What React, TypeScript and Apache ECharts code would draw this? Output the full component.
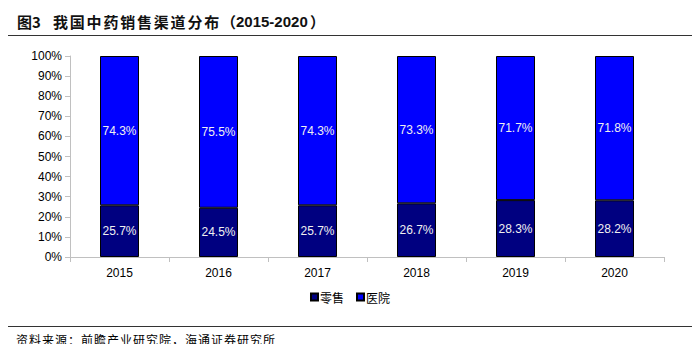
import React, { useEffect, useRef } from "react";
import * as echarts from "echarts";

const categories = ["2015", "2016", "2017", "2018", "2019", "2020"];
const retail = [25.7, 24.5, 25.7, 26.7, 28.3, 28.2];
const hospital = [74.3, 75.5, 74.3, 73.3, 71.7, 71.8];
const seriesNames = ["零售", "医院"];
const titleLabel = "图3";
const titleMain = "我国中药销售渠道分布";
const titleYears = "2015-2020";
const sourceText = "资料来源：前瞻产业研究院，海通证券研究所";

function spaced(text: string, x0: number, y: number, pitch: number, style: any) {
  return Array.from(text).map((ch, i) => ({
    type: "text",
    x: x0 + i * pitch,
    y,
    style: { text: ch, ...style },
  }));
}

export default function App() {
  const ref = useRef<HTMLDivElement>(null);
  useEffect(() => {
    const chart = echarts.init(ref.current!, null, { renderer: "svg" });
    const labelStyle = {
      show: true,
      position: "inside",
      color: "#f0f0f0",
      fontSize: 12,
      fontFamily: "Liberation Sans, Arial, sans-serif",
      formatter: (p: any) => p.value.toFixed(1) + "%",
    };
    const titleStyle = {
      fontSize: 15,
      fontWeight: "bold",
      fontFamily: "Noto Sans CJK SC, sans-serif",
      fill: "#111",
      verticalAlign: "middle",
    };
    chart.setOption({
      animation: false,
      backgroundColor: "#fff",
      graphic: [
        { type: "rect", shape: { x: 0, y: 4, width: 700, height: 2 }, style: { fill: "#333" } },
        { type: "text", x: 17, y: 21, style: { ...titleStyle, text: titleLabel } },
        ...spaced(titleMain, 53, 21, 16.8, titleStyle),
        { type: "text", x: 221, y: 21, style: { ...titleStyle, text: "（" } },
        {
          type: "text",
          x: 236,
          y: 21,
          style: { ...titleStyle, text: titleYears, fontSize: 15, fontFamily: "Liberation Sans, Arial, sans-serif" },
        },
        { type: "text", x: 310, y: 21, style: { ...titleStyle, text: "）" } },
        { type: "rect", shape: { x: 0, y: 35, width: 700, height: 1 }, style: { fill: "#333" } },
        { type: "rect", shape: { x: 0, y: 326, width: 700, height: 1 }, style: { fill: "#333" } },
        ...spaced(sourceText, 16, 333, 13, {
          fontSize: 12,
          fontFamily: "Noto Sans CJK SC, sans-serif",
          fill: "#000",
          verticalAlign: "top",
        }),
      ],
      grid: { left: 70, right: 36, top: 56, bottom: 95, containLabel: false },
      legend: {
        data: seriesNames,
        bottom: 44,
        left: "center",
        itemWidth: 7,
        itemHeight: 7,
        itemGap: 12,
        icon: "rect",
        textStyle: { fontSize: 12, fontFamily: "Noto Sans CJK SC, serif", color: "#000", padding: [0, 0, 0, -3] },
      },
      xAxis: {
        type: "category",
        data: categories,
        axisLine: { lineStyle: { color: "#c0c0c0" } },
        axisTick: { show: true, alignWithLabel: false, lineStyle: { color: "#c0c0c0" } },
        axisLabel: { color: "#000", fontSize: 12, fontFamily: "Liberation Sans, Arial, sans-serif", margin: 10 },
      },
      yAxis: {
        type: "value",
        min: 0,
        max: 100,
        interval: 10,
        axisLine: { show: true, lineStyle: { color: "#c0c0c0" } },
        axisTick: { show: true, lineStyle: { color: "#c0c0c0" } },
        splitLine: { show: false },
        axisLabel: {
          color: "#000",
          fontSize: 12,
          fontFamily: "Liberation Sans, Arial, sans-serif",
          formatter: "{value}%",
          margin: 8,
        },
      },
      series: [
        {
          name: seriesNames[0],
          type: "bar",
          stack: "total",
          data: retail,
          barWidth: 39,
          itemStyle: { color: "#000080", borderColor: "#000", borderWidth: 1 },
          label: labelStyle,
        },
        {
          name: seriesNames[1],
          type: "bar",
          stack: "total",
          data: hospital,
          barWidth: 39,
          itemStyle: { color: "#0000ff", borderColor: "#000", borderWidth: 1 },
          label: labelStyle,
        },
      ],
    });
    return () => chart.dispose();
  }, []);
  return <div ref={ref} style={{ width: 700, height: 352, margin: -8 }} />;
}
